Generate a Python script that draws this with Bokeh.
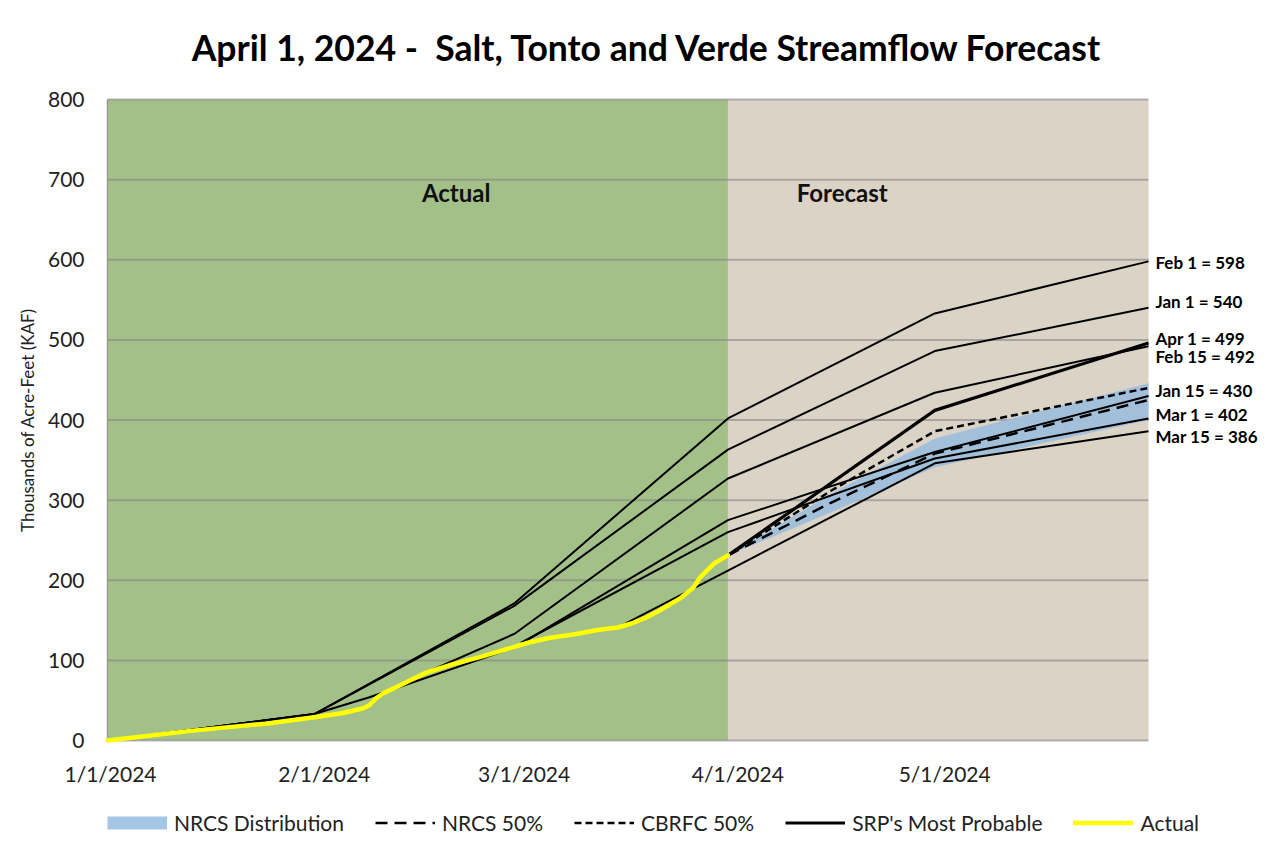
import math
import pandas as pd
from bokeh.plotting import figure
from bokeh.models import BoxAnnotation, Label, Legend, LegendItem, Range1d
from bokeh.embed import file_html
from bokeh.resources import INLINE

FONT = "Lato"

def ms(dates):
    return [int(v) for v in (pd.to_datetime(dates).astype("int64") // 10**6)]

# ---------------- data ----------------
actual_dates = ["2024-01-01", "2024-01-07", "2024-01-13", "2024-01-19", "2024-01-24", "2024-01-31",
                "2024-02-04", "2024-02-07", "2024-02-08", "2024-02-09", "2024-02-10", "2024-02-12",
                "2024-02-16", "2024-02-20", "2024-02-24", "2024-03-02", "2024-03-05", "2024-03-09",
                "2024-03-12", "2024-03-15", "2024-03-17", "2024-03-19", "2024-03-21", "2024-03-24",
                "2024-03-26", "2024-03-27", "2024-03-29", "2024-03-31"]
actual_vals = [0, 6, 12, 17, 21, 29, 34, 40, 44, 53, 59, 67, 84, 95, 104, 122, 128, 133,
               138, 141, 146, 153, 162, 177, 191, 204, 221, 231]

feb1_dates = ["2024-01-01", "2024-01-31", "2024-02-29", "2024-03-31", "2024-04-30", "2024-05-31"]
feb1_vals = [0, 33, 171, 402, 533, 598]

jan1_dates = ["2024-01-01", "2024-01-31", "2024-02-29", "2024-03-31", "2024-04-30", "2024-05-31"]
jan1_vals = [0, 33, 168, 363, 486, 540]

feb15_dates = ["2024-02-16", "2024-02-29", "2024-03-31", "2024-04-30", "2024-05-31"]
feb15_vals = [84, 133, 327, 434, 492]

jan15_dates = ["2024-01-01", "2024-01-31", "2024-02-08", "2024-02-29", "2024-03-31", "2024-04-30", "2024-05-31"]
jan15_vals = [0, 33, 54, 116, 275, 360, 430]

mar1_dates = ["2024-03-01", "2024-03-31", "2024-04-30", "2024-05-31"]
mar1_vals = [122, 260, 352, 402]

mar15_dates = ["2024-03-15", "2024-03-31", "2024-04-30", "2024-05-31"]
mar15_vals = [141, 212, 346, 386]

srp_dates = ["2024-03-31", "2024-04-30", "2024-05-31"]
srp_vals = [231, 412, 496]

cbrfc_dates = ["2024-03-31", "2024-04-15", "2024-04-30", "2024-05-31"]
cbrfc_vals = [231, 312, 386, 440]

nrcs_dates = ["2024-03-31", "2024-04-15", "2024-04-30", "2024-05-31"]
nrcs_vals = [231, 297, 358, 425]
nrcs_low = [231, 285, 341, 400]
nrcs_high = [231, 308, 377, 446]

label_texts = ["Feb 1 = 598", "Jan 1 = 540", "Apr 1 = 499", "Feb 15 = 492",
               "Jan 15 = 430", "Mar 1 = 402", "Mar 15 = 386"]
label_values = [598, 540, 499, 492, 430, 402, 386]

legend_labels = ["NRCS Distribution", "NRCS 50%", "CBRFC 50%", "SRP's Most Probable", "Actual"]

tick_dates = ["2024-01-01", "2024-02-01", "2024-03-01", "2024-04-01", "2024-05-01"]
tick_labels = ["1/1/2024", "2/1/2024", "3/1/2024", "4/1/2024", "5/1/2024"]
y_ticks = [0, 100, 200, 300, 400, 500, 600, 700, 800]

title_text = "April 1, 2024 - \u00a0Salt, Tonto and Verde Streamflow Forecast"
y_title = "Thousands of Acre-Feet (KAF)"

x_start, x_split, x_end = "2024-01-01", "2024-03-31", "2024-05-31"
y_min, y_max = 0, 800

# ---------------- styles ----------------
GREEN, BEIGE, BAND = "#a3c088", "#dbd3c6", "#a0bfdc"
YELLOW = "#ffff00"
NRCS_DASH, CBRFC_DASH = "12 7", "7 4"
TXT = "#222222"

# ---------------- layout constants (pixels) ----------------
W, H = 1273, 859
LEFT, TOP = 107, 99            # plot area top-left corner
DATA_W, DATA_H = 1041, 641     # plot area size
label_shift_px = [-1, 6, 2, -10, 5, 4, -5]   # vertical nudges of right labels

xs0, xsp, xe = ms([x_start])[0], ms([x_split])[0], ms([x_end])[0]
px_per_ms = DATA_W / (xe - xs0)
px_per_unit = DATA_H / (y_max - y_min)

# one frame covering the whole canvas; the plot area is a data window inside it
p = figure(frame_width=W, frame_height=H, x_axis_type="datetime",
           x_axis_location=None, y_axis_location=None, output_backend="svg",
           toolbar_location=None, min_border=0)
p.x_range = Range1d(xs0 - LEFT / px_per_ms, xs0 + (W - LEFT) / px_per_ms)
p.y_range = Range1d(y_max - (H - TOP) / px_per_unit, y_max + TOP / px_per_unit)
p.background_fill_color = "white"
p.border_fill_color = "white"
p.outline_line_color = None
p.grid.visible = False

p.add_layout(BoxAnnotation(left=xs0, right=xsp, bottom=y_min, top=y_max, fill_color=GREEN,
                           fill_alpha=1, line_color=None, level="underlay"))
p.add_layout(BoxAnnotation(left=xsp, right=xe, bottom=y_min, top=y_max, fill_color=BEIGE,
                           fill_alpha=1, line_color=None, level="underlay"))

# horizontal grid lines (the 0 line is the bottom axis line) and left axis line
p.segment(x0=[xs0] * len(y_ticks), x1=[xe] * len(y_ticks), y0=y_ticks, y1=y_ticks,
          line_color="#858585", line_alpha=0.6, line_width=2)
p.segment(x0=[xs0], x1=[xs0], y0=[y_min], y1=[y_max], line_color="#9a9a9a", line_width=1.5)

# y tick labels and y title
for v in y_ticks:
    p.add_layout(Label(x=xs0, y=v, text=str(v), x_offset=-23, text_align="right",
                       text_baseline="middle", text_font=FONT, text_font_size="21px",
                       text_color=TXT))
p.add_layout(Label(x=xs0, y=(y_min + y_max) / 2, text=y_title, x_offset=-80, angle=math.pi / 2,
                   text_align="center", text_baseline="middle", text_font=FONT,
                   text_font_size="17px", text_color=TXT))

# x tick labels (dates) under the zero line
for t, l in zip(ms(tick_dates), tick_labels):
    p.add_layout(Label(x=t, y=y_min, text=l, x_offset=3, y_offset=-33, text_align="center",
                       text_baseline="middle", text_font=FONT, text_font_size="21px",
                       text_color=TXT))

# band
p.varea(x=ms(nrcs_dates), y1=nrcs_low, y2=nrcs_high, fill_color=BAND, fill_alpha=0.95)
# legend swatch for the band (hidden renderer, drawn only as a thick legend bar)
band_key = p.line(ms(nrcs_dates), nrcs_vals, line_color="#a6c6e6", line_width=13, visible=False)

# thin forecast lines
for d, v in [(feb1_dates, feb1_vals), (jan1_dates, jan1_vals), (feb15_dates, feb15_vals),
             (jan15_dates, jan15_vals), (mar1_dates, mar1_vals), (mar15_dates, mar15_vals)]:
    p.line(ms(d), v, line_color="black", line_width=2)

nrcs_r = p.line(ms(nrcs_dates), nrcs_vals, line_color="black", line_width=2.5, line_dash=NRCS_DASH)
cbrfc_r = p.line(ms(cbrfc_dates), cbrfc_vals, line_color="black", line_width=2.5, line_dash=CBRFC_DASH)
srp_r = p.line(ms(srp_dates), srp_vals, line_color="black", line_width=3.2)
act_r = p.line(ms(actual_dates), actual_vals, line_color=YELLOW, line_width=4.5,
               line_join="round", line_cap="round")

# forecast labels at the right end
for t, v, s in zip(label_texts, label_values, label_shift_px):
    p.add_layout(Label(x=xe, y=v + s / px_per_unit, text=t, x_offset=7, text_align="left",
                       text_baseline="middle", text_font=FONT, text_font_style="bold",
                       text_font_size="17px", text_color="black"))

# region labels
p.add_layout(Label(x=ms(["2024-02-20"])[0], y=684, x_offset=4, text="Actual", text_align="center",
                   text_baseline="middle", text_font=FONT, text_font_style="bold",
                   text_font_size="24px", text_color="#111111"))
p.add_layout(Label(x=ms(["2024-04-16"])[0], y=684, x_offset=4, text="Forecast", text_align="center",
                   text_baseline="middle", text_font=FONT, text_font_style="bold",
                   text_font_size="24px", text_color="#111111"))

# title
p.add_layout(Label(x=xs0, y=y_max, x_offset=540, y_offset=52, text=title_text,
                   text_align="center", text_baseline="middle", text_font=FONT,
                   text_font_style="bold", text_font_size="35.5px", text_color="black"))

# legend (under the date labels)
legend = Legend(items=[LegendItem(label=l, renderers=[r]) for l, r in
                       zip(legend_labels, [band_key, nrcs_r, cbrfc_r, srp_r, act_r])],
                orientation="horizontal", location=(LEFT, 24))
legend.background_fill_alpha = 0
legend.border_line_color = None
legend.inactive_fill_alpha = 0
legend.padding = 0
legend.margin = 0
legend.spacing = 31
legend.glyph_width = 60
legend.glyph_height = 25
legend.label_height = 25
legend.label_standoff = 7
legend.label_text_font = FONT
legend.label_text_font_size = "21px"
legend.label_text_color = TXT
p.add_layout(legend, "center")

open("out.html", "w").write(file_html(p, INLINE))
